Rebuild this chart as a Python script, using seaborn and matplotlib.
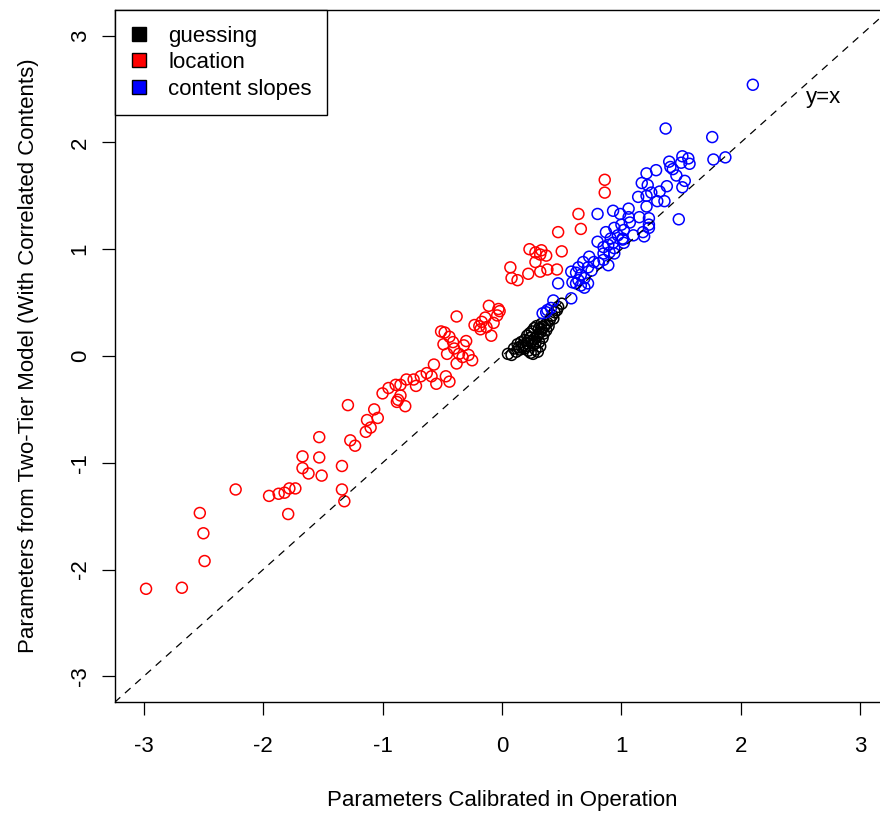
import numpy as np
import matplotlib
matplotlib.use("Agg")
import matplotlib.pyplot as plt
import seaborn as sns
from matplotlib.lines import Line2D

# values
guess_x = [0.05, 0.08, 0.10, 0.12, 0.13, 0.14, 0.15, 0.16, 0.17, 0.18, 0.19, 0.19, 0.20,
           0.21, 0.21, 0.22, 0.22, 0.23, 0.24, 0.24, 0.25, 0.25, 0.26, 0.26, 0.27, 0.27,
           0.28, 0.28, 0.29, 0.29, 0.30, 0.30, 0.31, 0.31, 0.32, 0.32, 0.33, 0.33, 0.34,
           0.35, 0.35, 0.36, 0.37, 0.38, 0.39, 0.40, 0.42, 0.43, 0.44, 0.46, 0.47, 0.50]
guess_y = [0.02, 0.01, 0.07, 0.04, 0.11, 0.08, 0.06, 0.13, 0.08, 0.10, 0.15, 0.07, 0.09,
           0.12, 0.19, 0.05, 0.14, 0.21, 0.03, 0.17, 0.14, 0.23, 0.02, 0.10, 0.16, 0.26,
           0.06, 0.12, 0.18, 0.28, 0.04, 0.20, 0.13, 0.26, 0.22, 0.09, 0.25, 0.30, 0.17,
           0.27, 0.21, 0.29, 0.24, 0.31, 0.28, 0.34, 0.38, 0.35, 0.41, 0.43, 0.46, 0.49]

loc_x = [-2.98, -2.68, -2.49, -2.50, -2.53, -2.23, -1.95, -1.87, -1.82, -1.78, -1.73, -1.79,
         -1.67, -1.67, -1.62, -1.53, -1.53, -1.51, -1.29, -1.27, -1.23, -1.34, -1.34, -1.32,
         -1.13, -1.10, -1.14, -1.07, -1.04, -1.00, -0.95, -0.89, -0.85, -0.80, -0.87, -0.85,
         -0.88, -0.81, -0.74, -0.72, -0.68, -0.63, -0.59, -0.57, -0.55, -0.47, -0.44, -0.51,
         -0.48, -0.49, -0.44, -0.46, -0.41, -0.40, -0.38, -0.36, -0.33, -0.32, -0.30, -0.28,
         -0.25, -0.38, -0.23, -0.19, -0.17, -0.14, -0.18, -0.13, -0.11, -0.07, -0.04, -0.03,
         -0.02, -0.09, 0.07, 0.08, 0.13, 0.23, 0.22, 0.28, 0.32, 0.28, 0.33, 0.32, 0.37, 0.38,
         0.47, 0.46, 0.50, 0.64, 0.66, 0.86, 0.86]
loc_y = [-2.18, -2.17, -1.92, -1.66, -1.47, -1.25, -1.31, -1.29, -1.28, -1.24, -1.24, -1.48,
         -1.05, -0.94, -1.10, -0.76, -0.95, -1.12, -0.46, -0.79, -0.84, -1.03, -1.25, -1.36,
         -0.60, -0.67, -0.71, -0.50, -0.58, -0.35, -0.30, -0.27, -0.27, -0.22, -0.41, -0.37,
         -0.43, -0.47, -0.22, -0.28, -0.19, -0.16, -0.19, -0.08, -0.26, -0.19, -0.24, 0.23,
         0.22, 0.11, 0.18, 0.02, 0.13, 0.07, 0.37, 0.02, -0.01, 0.10, 0.14, 0.01,
         -0.04, -0.07, 0.29, 0.28, 0.32, 0.36, 0.25, 0.27, 0.47, 0.31, 0.38, 0.44,
         0.42, 0.19, 0.83, 0.73, 0.71, 1.00, 0.77, 0.97, 0.95, 0.88, 0.99, 0.79, 0.94, 0.81,
         1.16, 0.81, 0.98, 1.33, 1.19, 1.65, 1.53]

slope_x = [2.10, 1.37, 1.76, 1.77, 1.87, 1.51, 1.56, 1.57, 1.50, 1.40, 1.41, 1.43, 1.46,
           1.53, 1.51, 1.29, 1.21, 1.17, 1.22, 1.38, 1.32, 1.25, 1.21, 1.14, 1.30, 1.36,
           1.21, 1.48, 1.06, 0.80, 0.93, 0.99, 1.06, 1.15, 1.23, 1.07, 1.23, 1.00, 0.94,
           1.02, 0.87, 1.18, 1.23, 0.97, 1.10, 1.19, 1.01, 0.91, 0.93, 1.02, 0.85, 0.80,
           0.89, 0.94, 1.01, 0.90, 0.94, 0.85, 0.85, 0.73, 0.77, 0.81, 0.89, 0.72, 0.64,
           0.58, 0.62, 0.66, 0.69, 0.72, 0.66, 0.64, 0.69, 0.59, 0.47, 0.58, 0.43, 0.38,
           0.34, 0.41, 0.37, 0.68, 0.75, 0.62]
slope_y = [2.54, 2.13, 2.05, 1.84, 1.86, 1.87, 1.85, 1.80, 1.81, 1.82, 1.77, 1.75, 1.69,
           1.64, 1.58, 1.74, 1.71, 1.62, 1.60, 1.59, 1.54, 1.53, 1.50, 1.49, 1.45, 1.45,
           1.40, 1.28, 1.38, 1.33, 1.36, 1.33, 1.30, 1.30, 1.29, 1.25, 1.23, 1.23, 1.20,
           1.18, 1.16, 1.16, 1.20, 1.13, 1.13, 1.12, 1.10, 1.10, 1.06, 1.06, 1.02, 1.07,
           1.04, 1.01, 1.09, 0.97, 0.96, 0.96, 0.90, 0.93, 0.88, 0.87, 0.85, 0.83, 0.83,
           0.79, 0.78, 0.76, 0.73, 0.68, 0.66, 0.71, 0.64, 0.69, 0.68, 0.54, 0.52, 0.43,
           0.40, 0.45, 0.41, 0.88, 0.80, 0.68]

groups = ["guessing", "location", "content slopes"]
colors = ["black", "red", "blue"]
ticks = [-3, -2, -1, 0, 1, 2, 3]

sns.set_style("white")
plt.rcParams["font.family"] = ["Liberation Sans", "DejaVu Sans"]
plt.rcParams["axes.unicode_minus"] = False
plt.rcParams["text.color"] = "black"
plt.rcParams["axes.labelcolor"] = "black"
plt.rcParams["xtick.color"] = "black"
plt.rcParams["ytick.color"] = "black"

fig = plt.figure(figsize=(8.8, 8.14), dpi=100)
ax = fig.add_axes([115 / 880, 112 / 814, 774 / 880, 692 / 814])

# reference line y = x
ax.plot([-3.5, 3.5], [-3.5, 3.5], color="black", linestyle=(0, (6, 5)), linewidth=0.9)

for (gx, gy), col in zip([(guess_x, guess_y), (loc_x, loc_y), (slope_x, slope_y)], colors):
    sns.scatterplot(x=gx, y=gy, ax=ax, color=col, facecolors="none", edgecolor=col,
                    marker="o", s=62, linewidth=1.1, legend=False)

ax.text(2.69, 2.42, "y=x", fontsize=16, ha="center", va="center")

ax.set_xlim(-3.24, 3.24)
ax.set_ylim(-3.24, 3.24)
ax.set_xticks(ticks)
ax.set_yticks(ticks)
ax.set_xticklabels([str(t) for t in ticks])
ax.set_yticklabels([str(t) for t in ticks], rotation=90, va="center")
ax.tick_params(axis="both", direction="out", length=9.5, width=0.9, color="black",
               labelsize=16, bottom=True, left=True)
ax.tick_params(axis="x", pad=15)
ax.tick_params(axis="y", pad=8)
for sp in ax.spines.values():
    sp.set_color("black")
    sp.set_linewidth(1.0)

ax.set_xlabel("Parameters Calibrated in Operation", fontsize=16, labelpad=24)
ax.set_ylabel("Parameters from Two-Tier Model (With Correlated Contents)", fontsize=16,
              labelpad=22)

handles = [Line2D([], [], marker="s", linestyle="none", markersize=10.5,
                  markerfacecolor=c, markeredgecolor="black", markeredgewidth=1)
           for c in colors]
leg = ax.legend(handles, groups, loc="upper left", bbox_to_anchor=(0, 1), borderaxespad=0,
                fontsize=16, frameon=True, fancybox=False, edgecolor="black", framealpha=1,
                handlelength=0.8, handletextpad=0.9, labelspacing=0.25, borderpad=0.7)
leg.get_frame().set_linewidth(1.0)

fig.savefig("out.png", dpi=100)
